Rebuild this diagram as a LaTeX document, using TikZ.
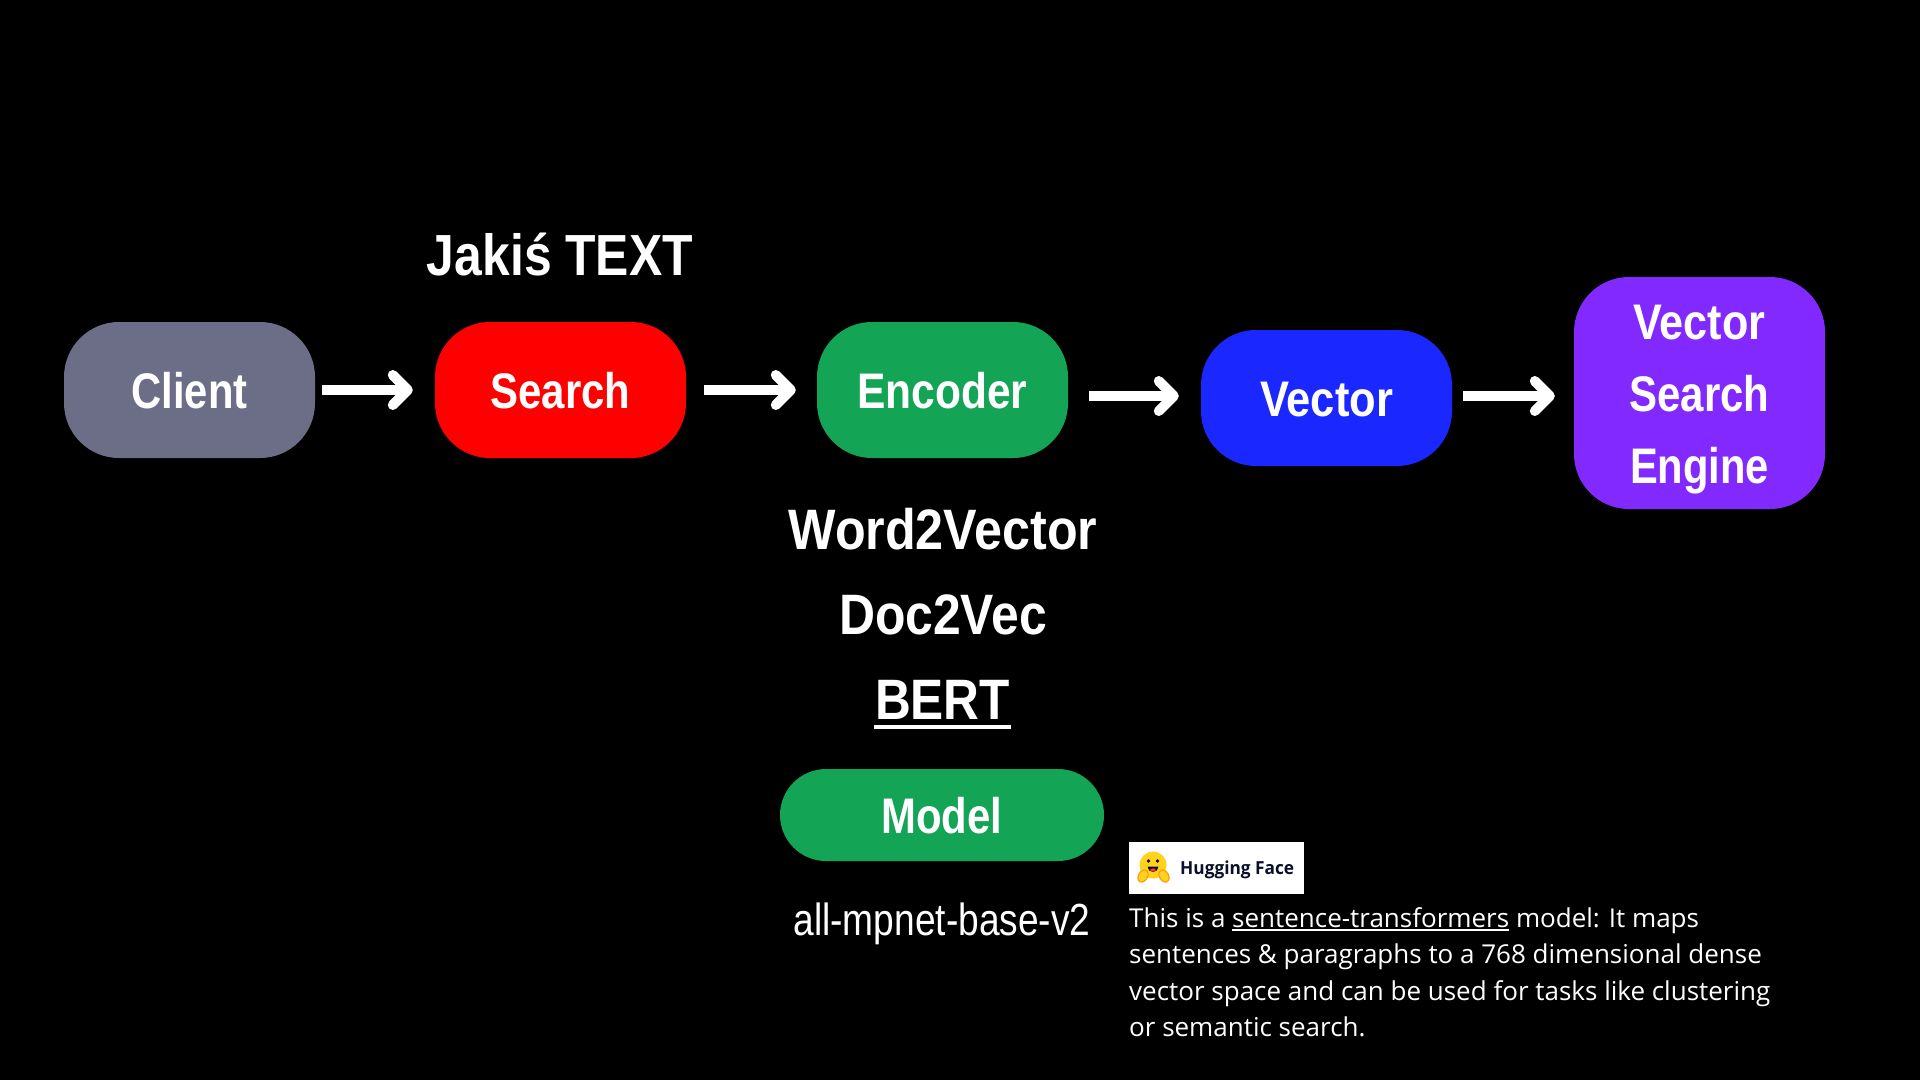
\documentclass[tikz,border=0pt]{standalone}
\usepackage{fontspec}
\usepackage{graphicx}
\setmainfont{Liberation Sans}
\newfontfamily\bodyfont{Open Sans}
\usetikzlibrary{arrows.meta,calc}

\definecolor{clientgray}{HTML}{6C6E87}
\definecolor{searchred}{HTML}{FF0000}
\definecolor{encgreen}{HTML}{13A456}
\definecolor{vecblue}{HTML}{1B27FF}
\definecolor{vsepurple}{HTML}{8229FF}
\definecolor{hfyellow}{HTML}{FFD21E}
\definecolor{hforange}{HTML}{FF9D0B}
\definecolor{hfnavy}{HTML}{0B0F29}
\definecolor{hftongue}{HTML}{FF323D}

\newcommand{\fitw}[2]{\resizebox{#1}{\height}{#2}}
\newsavebox\myulbox
\newcommand{\myul}[1]{\sbox\myulbox{#1}\rlap{\rule[-4pt]{\wd\myulbox}{2pt}}\usebox\myulbox}

\begin{document}
\begin{tikzpicture}[x=1pt,y=-1pt,
  boxbase/.style={rounded corners=55pt, minimum width=251pt, minimum height=136pt,
    inner sep=0pt, text=white, font=\fontsize{50}{72}\selectfont\bfseries},
  flowbox/.style={boxbase, text height=36pt, text depth=0pt},
  bigtext/.style={text=white, font=\fontsize{57}{60}\selectfont\bfseries, inner sep=0pt, anchor=base},
  desc/.style={text=white, font=\bodyfont\fontsize{26}{36}\selectfont, inner sep=0pt, anchor=base west},
  flowarrow/.style={white, line width=10pt, -{Straight Barb[length=15pt,width=30pt,round]}},
]
\useasboundingbox (0,0) rectangle (1920,1080);
\fill[black] (0,0) rectangle (1920,1080);

% main flow boxes
\node[flowbox, fill=clientgray] (client) at (189.5,390) {\fitw{116pt}{Client}};
\node[flowbox, fill=searchred] (search) at (560.5,390) {\fitw{140pt}{Search}};
\node[flowbox, fill=encgreen] (encoder) at (942.5,390) {\fitw{170pt}{Encoder}};
\node[flowbox, fill=vecblue] (vector) at (1326.5,398) {\fitw{133pt}{Vector}};
\node[boxbase, fill=vsepurple, minimum height=232pt, align=center] (vse) at (1699.5,393)
  {\rule{0pt}{48pt}\fitw{132pt}{Vector}\\\fitw{140pt}{Search}\\\fitw{139pt}{Engine}};

% arrows
\draw[flowarrow] ([xshift=7pt]client.east) -- ([xshift=-22pt]search.west);
\draw[flowarrow] ([xshift=18pt]search.east) -- ([xshift=-21pt]encoder.west);
\draw[flowarrow] ($(encoder.east |- vector.west)+(21,-2)$) -- ($(vector.west)+(-22,-2)$);
\draw[flowarrow] ($(vector.east)+(11,-2)$) -- ($(vse.west |- vector.east)+(-19,-2)$);

% labels
\node[bigtext, font=\fontsize{58}{60}\selectfont\bfseries] (jakis) at (560,275) {\fitw{266pt}{Jakiś TEXT}};
\node[bigtext] (w2v) at (943,549) {\fitw{309pt}{Word2Vector}};
\node[bigtext] (d2v) at (943,634) {\fitw{208pt}{Doc2Vec}};
\node[bigtext] (bert) at (942.5,719) {\fitw{135pt}{BERT}};
\draw[white, line width=3.5pt] ($(bert.base west)+(-1,8)$) -- ($(bert.base east)+(1,8)$);

% model
\node[flowbox, fill=encgreen, rounded corners=46pt, minimum width=324pt, minimum height=92pt, text height=37pt]
  (model) at (942,815) {\fitw{121pt}{Model}};
\node[text=white, font=\fontsize{45}{50}\selectfont, inner sep=0pt, anchor=base] (mpnet) at (942,935)
  {\fitw{297pt}{all-mpnet-base-v2}};

% Hugging Face logo
\node[fill=white, minimum width=175pt, minimum height=52pt, inner sep=0pt, anchor=north west] (hf) at (1129,842) {};
\fill[hfyellow] (1153,865) circle (13.5);
\fill[hfnavy] (1148.5,861) circle (1.9);
\fill[hfnavy] (1157.5,861) circle (1.9);
\fill[hfnavy] (1147.5,866.5) arc[start angle=180, end angle=0, radius=5.5] -- cycle;
\fill[hftongue] (1153,870) ellipse[x radius=2.8, y radius=1.6];
\filldraw[fill=hfyellow, draw=hforange, line width=1.2pt, rotate around={-30:(1143,876)}] (1143,876) ellipse[x radius=4.5, y radius=6.5];
\filldraw[fill=hfyellow, draw=hforange, line width=1.2pt, rotate around={30:(1164,876)}] (1164,876) ellipse[x radius=4.5, y radius=6.5];
\node[anchor=base west, text=hfnavy, font=\bodyfont\fontsize{18}{20}\selectfont\bfseries, inner sep=0pt] (hflabel) at (1180,874)
  {\fitw{114pt}{Hugging Face}};

% description
\node[desc] (desc1) at (1129,927) {This is a \myul{sentence-transformers} model: It maps};
\node[desc] (desc2) at (1129,963.5) {sentences \& paragraphs to a 768 dimensional dense};
\node[desc] (desc3) at (1129,1000) {vector space and can be used for tasks like clustering};
\node[desc] (desc4) at (1129,1036) {or semantic search.};
\end{tikzpicture}
\end{document}
